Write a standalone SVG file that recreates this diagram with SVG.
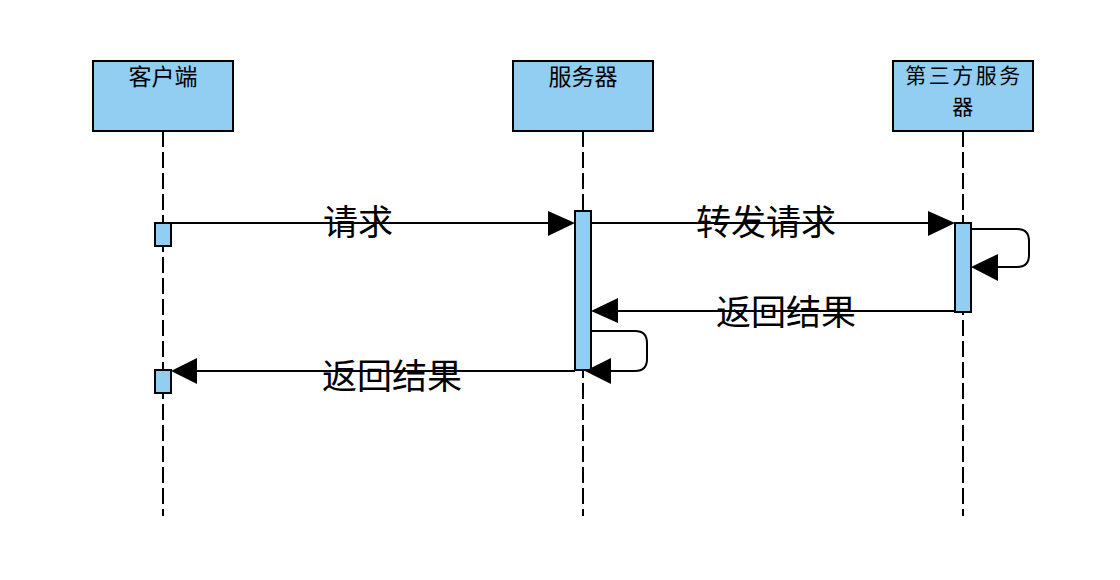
<svg xmlns="http://www.w3.org/2000/svg" width="1120" height="580" viewBox="0 0 1120 580">
<style>
.box{fill:#91CEF1;stroke:#000;stroke-width:2}
.life{stroke:#000;stroke-width:2;stroke-dasharray:16 5;fill:none}
.act{fill:#91CEF1;stroke:#000;stroke-width:2}
.msg{stroke:#000;stroke-width:2;fill:none}
.head{fill:#000}
.t{font-family:"Noto Sans CJK SC","Noto Sans",sans-serif;fill:#000;text-anchor:middle}
.nt{font-size:23px}
.nt2{font-size:21px;letter-spacing:2.5px}
.lt{font-size:35px}
</style>
<rect width="1120" height="580" fill="#fff"/>
<g id="client">
<line class="life" x1="163" y1="131" x2="163" y2="516"/>
<rect class="box" x="93" y="61" width="140" height="70"/>
<text class="t nt" x="163" y="85">客户端</text>
</g>
<g id="server">
<line class="life" x1="583" y1="131" x2="583" y2="516"/>
<rect class="box" x="513" y="61" width="140" height="70"/>
<text class="t nt" x="583" y="85">服务器</text>
</g>
<g id="thirdparty">
<line class="life" x1="963" y1="131" x2="963" y2="516"/>
<rect class="box" x="893" y="61" width="140" height="70"/>
<text class="t nt2" x="964" y="83">第三方服务</text>
<text class="t nt2" x="964" y="114">器</text>
</g>
<g id="activations">
<rect class="act" x="155" y="223" width="16" height="23"/>
<rect class="act" x="155" y="370" width="16" height="23"/>
<rect class="act" x="575" y="211" width="16" height="159"/>
<rect class="act" x="955" y="223" width="16" height="89"/>
</g>
<g id="connectors">
<line class="msg" x1="163" y1="223" x2="550" y2="223"/>
<polygon class="head" points="575,223 548,211 548,236"/>
<text class="t lt" x="358" y="235">请求</text>
<line class="msg" x1="591" y1="223" x2="930" y2="223"/>
<polygon class="head" points="955,223 928,211 928,236"/>
<text class="t lt" x="766" y="235">转发请求</text>
<path class="msg" d="M971,229 H1017 Q1029,229 1029,241 V255 Q1029,267 1017,267 H995"/>
<polygon class="head" points="971,267 998,254 998,281"/>
<line class="msg" x1="955" y1="311" x2="615" y2="311"/>
<polygon class="head" points="591,311 618,298 618,323"/>
<text class="t lt" x="786" y="325">返回结果</text>
<path class="msg" d="M591,331 H635 Q647,331 647,343 V359 Q647,371 635,371 H610"/>
<polygon class="head" points="585,371 611,358 611,384"/>
<line class="msg" x1="575" y1="371" x2="195" y2="371"/>
<polygon class="head" points="171,371 197,358 197,384"/>
<text class="t lt" x="392" y="389">返回结果</text>
</g>
</svg>
